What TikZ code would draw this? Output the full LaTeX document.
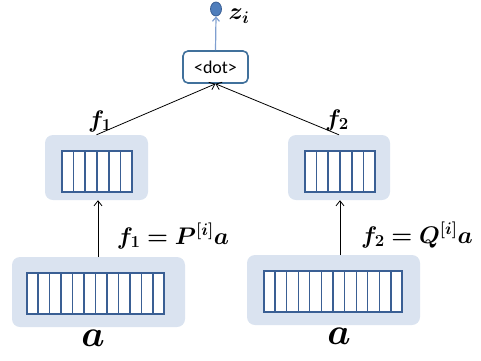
\RequirePackage{fix-cm}
\documentclass[tikz,border=0pt]{standalone}
\usepackage{amsmath,bm}
\usepackage{fontspec}
\newfontfamily\boxfont{Carlito}
\usetikzlibrary{arrows.meta,calc,shapes.geometric}
\definecolor{panelblue}{HTML}{DAE3F0}
\definecolor{stripblue}{HTML}{3A5F94}
\definecolor{boxblue}{HTML}{41719C}
\definecolor{dotfill}{HTML}{4F7EBC}
\definecolor{linkblue}{HTML}{7F9FD0}
\tikzset{
  panel/.style={fill=panelblue, rounded corners=8pt, inner sep=0pt},
  strip/.style={draw=stripblue, line width=1.3pt, fill=white, inner sep=0pt},
  opbox/.style={draw=boxblue, line width=1.6pt, fill=white, rounded corners=5pt,
    inner sep=0pt, minimum width=65pt, minimum height=32pt, font=\fontsize{18}{20}\selectfont\boxfont},
  flow/.style={black, line width=0.8pt, -{Straight Barb[length=5pt,width=8pt]}},
  mlabel/.style={inner sep=0pt, font=\fontsize{24}{28}\selectfont},
  biglabel/.style={inner sep=0pt, font=\fontsize{37}{40}\selectfont}
}
% draws n cell dividers inside a strip node
\newcommand\cellsplit[2]{%
  \foreach \k in {1,...,\numexpr#2-1\relax}{
    \draw[stripblue, line width=1.3pt]
      ($(#1.south west)!\k/#2!(#1.south east)$) -- ($(#1.north west)!\k/#2!(#1.north east)$);
  }}
\begin{document}
\begin{tikzpicture}[x=1pt,y=-1pt]
\useasboundingbox (0,0) rectangle (481,360);

% upper feature panels
\node[panel, minimum width=103pt, minimum height=65pt] (p1) at (96.5,167.5) {};
\node[strip, minimum width=70pt, minimum height=41pt] (s1) at (97,171.5) {};
\cellsplit{s1}{6}
\node[panel, minimum width=102pt, minimum height=65pt] (p2) at (339,167.5) {};
\node[strip, minimum width=70pt, minimum height=41pt] (s2) at (340,171.5) {};
\cellsplit{s2}{6}

% lower input panels
\node[panel, minimum width=173pt, minimum height=70pt] (q1) at (98.5,292) {};
\node[strip, minimum width=137pt, minimum height=41pt] (t1) at (95.5,293.5) {};
\cellsplit{t1}{12}
\node[panel, minimum width=173pt, minimum height=70pt] (q2) at (333.5,290) {};
\node[strip, minimum width=138pt, minimum height=41pt] (t2) at (333,291.5) {};
\cellsplit{t2}{12}

% dot product and output
\node[opbox] (dot) at (215.5,67) {<dot>};
\node[draw=stripblue, fill=dotfill, line width=0.8pt, ellipse, minimum width=11pt,
  minimum height=14pt, inner sep=0pt] (z) at (216,9) {};
\draw[linkblue, line width=1.2pt, -{Straight Barb[length=4pt,width=7pt]}] (dot.north) -- (z.south);

% connectors
\draw[flow] (p1.north) -- (dot.south);
\draw[flow] (p2.north) -- (dot.south);
\draw[flow] (98,257) coordinate (c1) -- (p1.south -| c1);
\draw[flow] (340,255) coordinate (c2) -- (p2.south -| c2);

% labels
\node[mlabel] (lz) at (239,16) {$\bm{z_i}$};
\node[mlabel] (lf1) at (100,121) {$\bm{f_1}$};
\node[mlabel] (lf2) at (337,120) {$\bm{f_2}$};
\node[mlabel] (le1) at (173,236) {$\bm{f_1 = P^{[i]}a}$};
\node[mlabel] (le2) at (417,235) {$\bm{f_2 = Q^{[i]}a}$};
\node[biglabel] (la1) at (93,338) {$\bm{a}$};
\node[biglabel] (la2) at (339,336) {$\bm{a}$};
\end{tikzpicture}
\end{document}
